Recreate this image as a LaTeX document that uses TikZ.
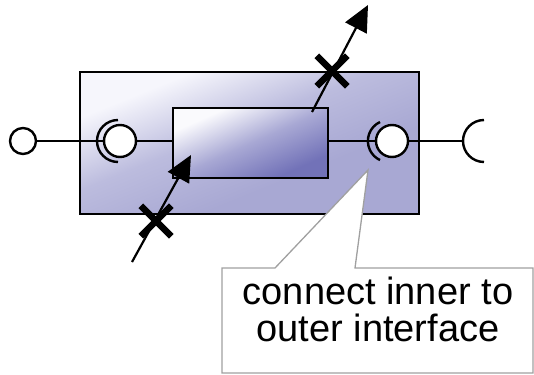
\documentclass[tikz,border=0pt]{standalone}
\usepackage{fontspec}
\setmainfont{Liberation Sans}
\usetikzlibrary{arrows.meta,shapes.misc}
\definecolor{outerlight}{HTML}{F6F6FC}
\definecolor{outermid}{HTML}{BCBCDE}
\definecolor{outerdark}{HTML}{A8A8D3}
\definecolor{innerlight}{HTML}{FAFAFD}
\definecolor{innermid}{HTML}{A8A8D4}
\definecolor{innerdark}{HTML}{7272B8}
\definecolor{calloutgray}{HTML}{A0A0A0}
\pgfdeclareverticalshading{outershade}{100bp}{color(0bp)=(outerdark); color(38bp)=(outerdark); color(55bp)=(outermid); color(72bp)=(outerlight); color(100bp)=(outerlight)}
\pgfdeclareverticalshading{innershade}{100bp}{color(0bp)=(innerdark); color(28bp)=(innerdark); color(50bp)=(innermid); color(72bp)=(innerlight); color(100bp)=(innerlight)}
\tikzset{
  line/.style={line width=2.4pt, black},
  port/.style={circle, draw, line width=2.4pt, fill=white, inner sep=0pt},
  socketarc/.style={line width=2.4pt, black},
  flow/.style={line width=2.2pt, -{Triangle[length=26pt,width=24pt]}},
  xmark/.style={cross out, draw, line width=6.5pt, minimum size=24pt, inner sep=0pt},
}
\begin{document}
\begin{tikzpicture}[x=1pt,y=-1pt]
\useasboundingbox (0,0) rectangle (534,374);
% outer component
\node[draw, line width=2.6pt, minimum width=339pt, minimum height=142pt, inner sep=0pt,
  shade, shading=outershade, shading angle=22] (outer) at (249.5,143) {};
% inner part
\node[draw, line width=2.6pt, minimum width=155pt, minimum height=70pt, inner sep=0pt,
  shade, shading=innershade, shading angle=24] (inner) at (250.5,143) {};
% left external port
\node[port, minimum size=26pt] (lport) at (23,141) {};
% left delegation ball and socket
\draw[socketarc] (118,120) arc[start angle=90, end angle=270, radius=21pt];
\node[port, minimum size=32pt] (lball) at (120,141) {};
% right delegation ball and socket
\draw[socketarc] (380,122) arc[start angle=115, end angle=245, radius=21pt];
\node[port, minimum size=32pt] (rball) at (392,141) {};
% right external socket
\coordinate (rsock) at (463,141);
\draw[socketarc] (484,120) arc[start angle=90, end angle=270, radius=21pt];
% connectors
\draw[line] (lport.east) -- (lball.west);
\draw[line] (lball.east) -- (inner.west |- lball.east);
\draw[line] (inner.east |- rball.west) -- (rball.west);
\draw[line] (rball.east) -- (rsock);
% flows
\coordinate (topstart) at (312,112);
\coordinate (toptip) at (368,5);
\coordinate (botstart) at (132,262);
\coordinate (bottip) at (191,155);
\draw[flow] (topstart) -- (toptip);
\draw[flow] (botstart) -- (bottip);
\node[xmark] (topx) at (332,71) {};
\node[xmark] (botx) at (156,221) {};
% callout
\draw[calloutgray, line width=1.3pt, fill=white, line join=miter]
  (222,268) -- (275,268) -- (368,170) -- (355,268) -- (533,268) -- (533,373) -- (222,373) -- cycle;
\node[font=\fontsize{38}{37}\selectfont, align=center, inner sep=0pt] (note) at (378,309)
  {connect inner to\\outer interface};
\end{tikzpicture}
\end{document}
